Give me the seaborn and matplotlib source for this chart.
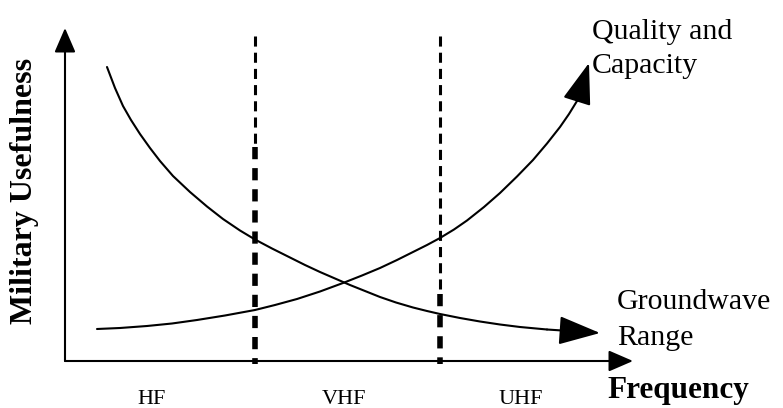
import pandas as pd
import matplotlib
matplotlib.use("Agg")
import matplotlib.pyplot as plt
import seaborn as sns

# Groundwave range curve (falls with frequency)
gw_x = [0.42, 0.50, 0.58, 0.66, 0.75, 0.85, 0.95, 1.08, 1.25, 1.42, 1.58, 1.75,
        1.90, 2.07, 2.25, 2.40, 2.55, 2.70, 2.85, 3.00, 3.15, 3.31, 3.48, 3.62,
        3.75, 3.95, 4.15, 4.35, 4.55, 4.82]
gw_y = [2.94, 2.73, 2.55, 2.41, 2.27, 2.13, 2.00, 1.85, 1.69, 1.545, 1.42, 1.305,
        1.215, 1.125, 1.035, 0.96, 0.89, 0.825, 0.76, 0.70, 0.64, 0.585, 0.535, 0.50,
        0.47, 0.43, 0.395, 0.365, 0.34, 0.315]
gw_tip = (5.35, 0.28)

# Quality and capacity curve (rises with frequency)
qc_x = [0.32, 0.55, 0.82, 1.07, 1.32, 1.60, 1.90, 2.10, 2.32, 2.55, 2.78, 2.97,
        3.15, 3.32, 3.48, 3.62, 3.75, 3.89, 4.02, 4.19, 4.35, 4.52, 4.68, 4.82,
        4.95, 5.04, 5.12]
qc_y = [0.32, 0.33, 0.35, 0.375, 0.41, 0.455, 0.51, 0.56, 0.62, 0.695, 0.78, 0.855,
        0.93, 1.01, 1.09, 1.16, 1.23, 1.315, 1.405, 1.54, 1.68, 1.845, 2.01, 2.175,
        2.34, 2.47, 2.60]
qc_tip = (5.24, 2.98)

# Band boundaries and band labels
band_edges = [1.90, 3.75]
band_switch = [2.14, 0.67]   # where the dashes turn heavy
band_labels = ["HF", "VHF", "UHF"]
band_label_x = [0.87, 2.79, 4.56]

x_axis_end = 5.68
y_axis_end = 3.33

sns.set_theme(style="white")
plt.rcParams["font.family"] = ["Liberation Serif", "DejaVu Serif"]
plt.rcParams["text.color"] = "black"

fig = plt.figure(figsize=(7.83, 4.08), dpi=100)
ax = fig.add_axes([0, 0, 1, 1])
ax.set_xlim(-0.65, 7.18)
ax.set_ylim(-0.47, 3.61)
ax.axis("off")

# axes with arrow heads
axis_arrow = dict(arrowstyle="-|>,head_length=1.5,head_width=0.65", lw=1.5,
                  color="black", shrinkA=0, shrinkB=0, mutation_scale=10)
ax.annotate("", xy=(0, y_axis_end), xytext=(0, 0), arrowprops=axis_arrow)
ax.annotate("", xy=(x_axis_end, 0), xytext=(0, 0), arrowprops=axis_arrow)

# dashed band boundaries: light dashes above, heavy dashes below
for xe, ys in zip(band_edges, band_switch):
    ax.plot([xe, xe], [3.25, ys + 0.03], color="black", lw=2.2,
            linestyle=(0, (3.3, 2.0)))
    ax.plot([xe, xe], [ys, -0.03], color="black", lw=4.0,
            linestyle=(0, (2.2, 1.6)))

# curves
gw = pd.DataFrame({"x": gw_x, "y": gw_y})
qc = pd.DataFrame({"x": qc_x, "y": qc_y})
sns.lineplot(data=gw, x="x", y="y", ax=ax, color="black", lw=1.5,
             estimator=None, sort=False)
sns.lineplot(data=qc, x="x", y="y", ax=ax, color="black", lw=1.5,
             estimator=None, sort=False)

curve_arrow = dict(arrowstyle="-|>,head_length=2.6,head_width=0.9", lw=1.5,
                   color="black", shrinkA=0, shrinkB=0, mutation_scale=10)
ax.annotate("", xy=gw_tip, xytext=(gw_x[-1], gw_y[-1]), arrowprops=curve_arrow)
ax.annotate("", xy=qc_tip, xytext=(qc_x[-1], qc_y[-1]), arrowprops=curve_arrow)

# labels
ax.text(5.27, 2.88, "Quality and\nCapacity", fontsize=21.5, ha="left",
        va="baseline", linespacing=1.42)
ax.text(5.52, 0.16, "Groundwave\nRange", fontsize=21.5, ha="left",
        va="baseline", linespacing=1.5)
ax.text(6.13, -0.37, "Frequency", fontsize=22.5, fontweight="bold",
        ha="center", va="baseline")
for lab, lx in zip(band_labels, band_label_x):
    ax.text(lx, -0.43, lab, fontsize=16, ha="center", va="baseline")
ax.text(-0.41, 1.70, "Military Usefulness", fontsize=23, fontweight="bold",
        rotation=90, ha="center", va="center")

fig.savefig("out.png", dpi=100)
